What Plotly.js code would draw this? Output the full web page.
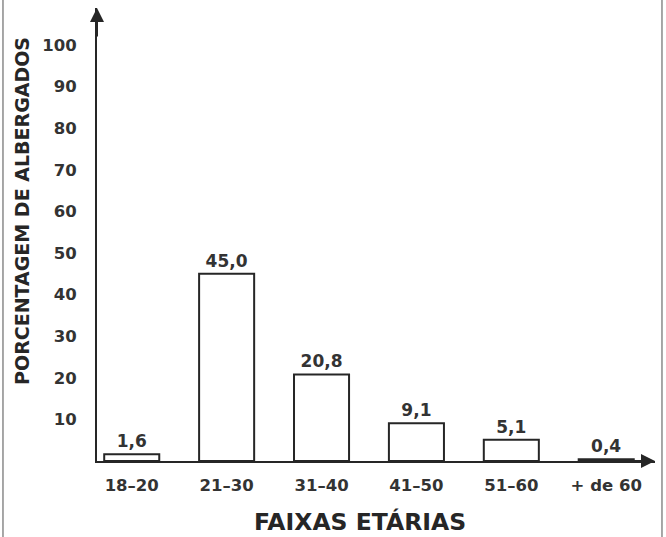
<!DOCTYPE html>
<html>
<head>
<meta charset="utf-8">
<script src="https://cdn.plot.ly/plotly-3.0.1.min.js"></script>
<style>html,body{margin:0;padding:0;background:#fff;}</style>
</head>
<body>
<div id="chart" style="width:666px;height:537px;"></div>
<script>
const categories = ['18–20', '21–30', '31–40', '41–50', '51–60', '+ de 60'];
const percentages = [1.6, 45.0, 20.8, 9.1, 5.1, 0.4];
const yTickValues = [10, 20, 30, 40, 50, 60, 70, 80, 90, 100];

const ink = '#262626';
const labelInk = '#333333';

const trace = {
  type: 'bar',
  x: categories,
  y: percentages,
  width: 0.58,
  marker: {color: '#ffffff', line: {color: ink, width: 2}},
  texttemplate: '%{y:.1f}',
  textposition: 'outside',
  cliponaxis: false,
  textfont: {family: 'DejaVu Sans', size: 17, color: labelInk, weight: 'bold'},
  hoverinfo: 'skip'
};

const layout = {
  width: 666,
  height: 537,
  margin: {l: 97, r: 11, t: 8, b: 76},
  paper_bgcolor: '#ffffff',
  plot_bgcolor: '#ffffff',
  separators: ',.',
  showlegend: false,
  font: {family: 'DejaVu Sans', size: 17, color: labelInk},
  xaxis: {
    type: 'category',
    range: [-0.366, 5.514],
    showline: true,
    linecolor: ink,
    linewidth: 2,
    showgrid: false,
    zeroline: false,
    ticks: '',
    ticklabelstandoff: 8,
    tickfont: {family: 'DejaVu Sans', size: 16.5, color: labelInk, weight: 'bold'}
  },
  yaxis: {
    range: [0, 108.9],
    showline: true,
    linecolor: ink,
    linewidth: 2,
    showgrid: false,
    zeroline: false,
    ticks: '',
    tickvals: yTickValues,
    ticklabelstandoff: 15,
    tickfont: {family: 'DejaVu Sans', size: 16.5, color: labelInk, weight: 'bold'}
  },
  annotations: [
    {xref: 'paper', yref: 'paper', x: 0, y: 1, ax: 0, ay: 30, text: '', showarrow: true,
     arrowhead: 2, arrowsize: 1.4, arrowwidth: 2, arrowcolor: ink},
    {xref: 'paper', yref: 'paper', x: 1, y: 0, ax: -30, ay: 0, text: '', showarrow: true,
     arrowhead: 2, arrowsize: 1.4, arrowwidth: 2, arrowcolor: ink},
    {xref: 'paper', yref: 'paper', x: 0.4713, y: -0.1353, xanchor: 'center', yanchor: 'middle',
     text: 'FAIXAS ETÁRIAS', showarrow: false,
     font: {family: 'DejaVu Sans', size: 23.5, color: ink, weight: 'bold'}},
    {xref: 'paper', yref: 'paper', x: -0.1344, y: 0.552, xanchor: 'center', yanchor: 'middle',
     text: 'PORCENTAGEM DE ALBERGADOS', textangle: -90, showarrow: false,
     font: {family: 'DejaVu Sans', size: 19, color: ink, weight: 'bold'}}
  ],
  shapes: [
    {type: 'line', xref: 'paper', yref: 'paper', x0: -0.1685, x1: -0.1685, y0: -0.17, y1: 1.02,
     line: {color: '#8a8a8a', width: 1.5}},
    {type: 'line', xref: 'paper', yref: 'paper', x0: 1.0125, x1: 1.0125, y0: -0.17, y1: 1.02,
     line: {color: '#8a8a8a', width: 1.5}}
  ]
};

Plotly.newPlot('chart', [trace], layout, {displayModeBar: false, staticPlot: true});
</script>
</body>
</html>
